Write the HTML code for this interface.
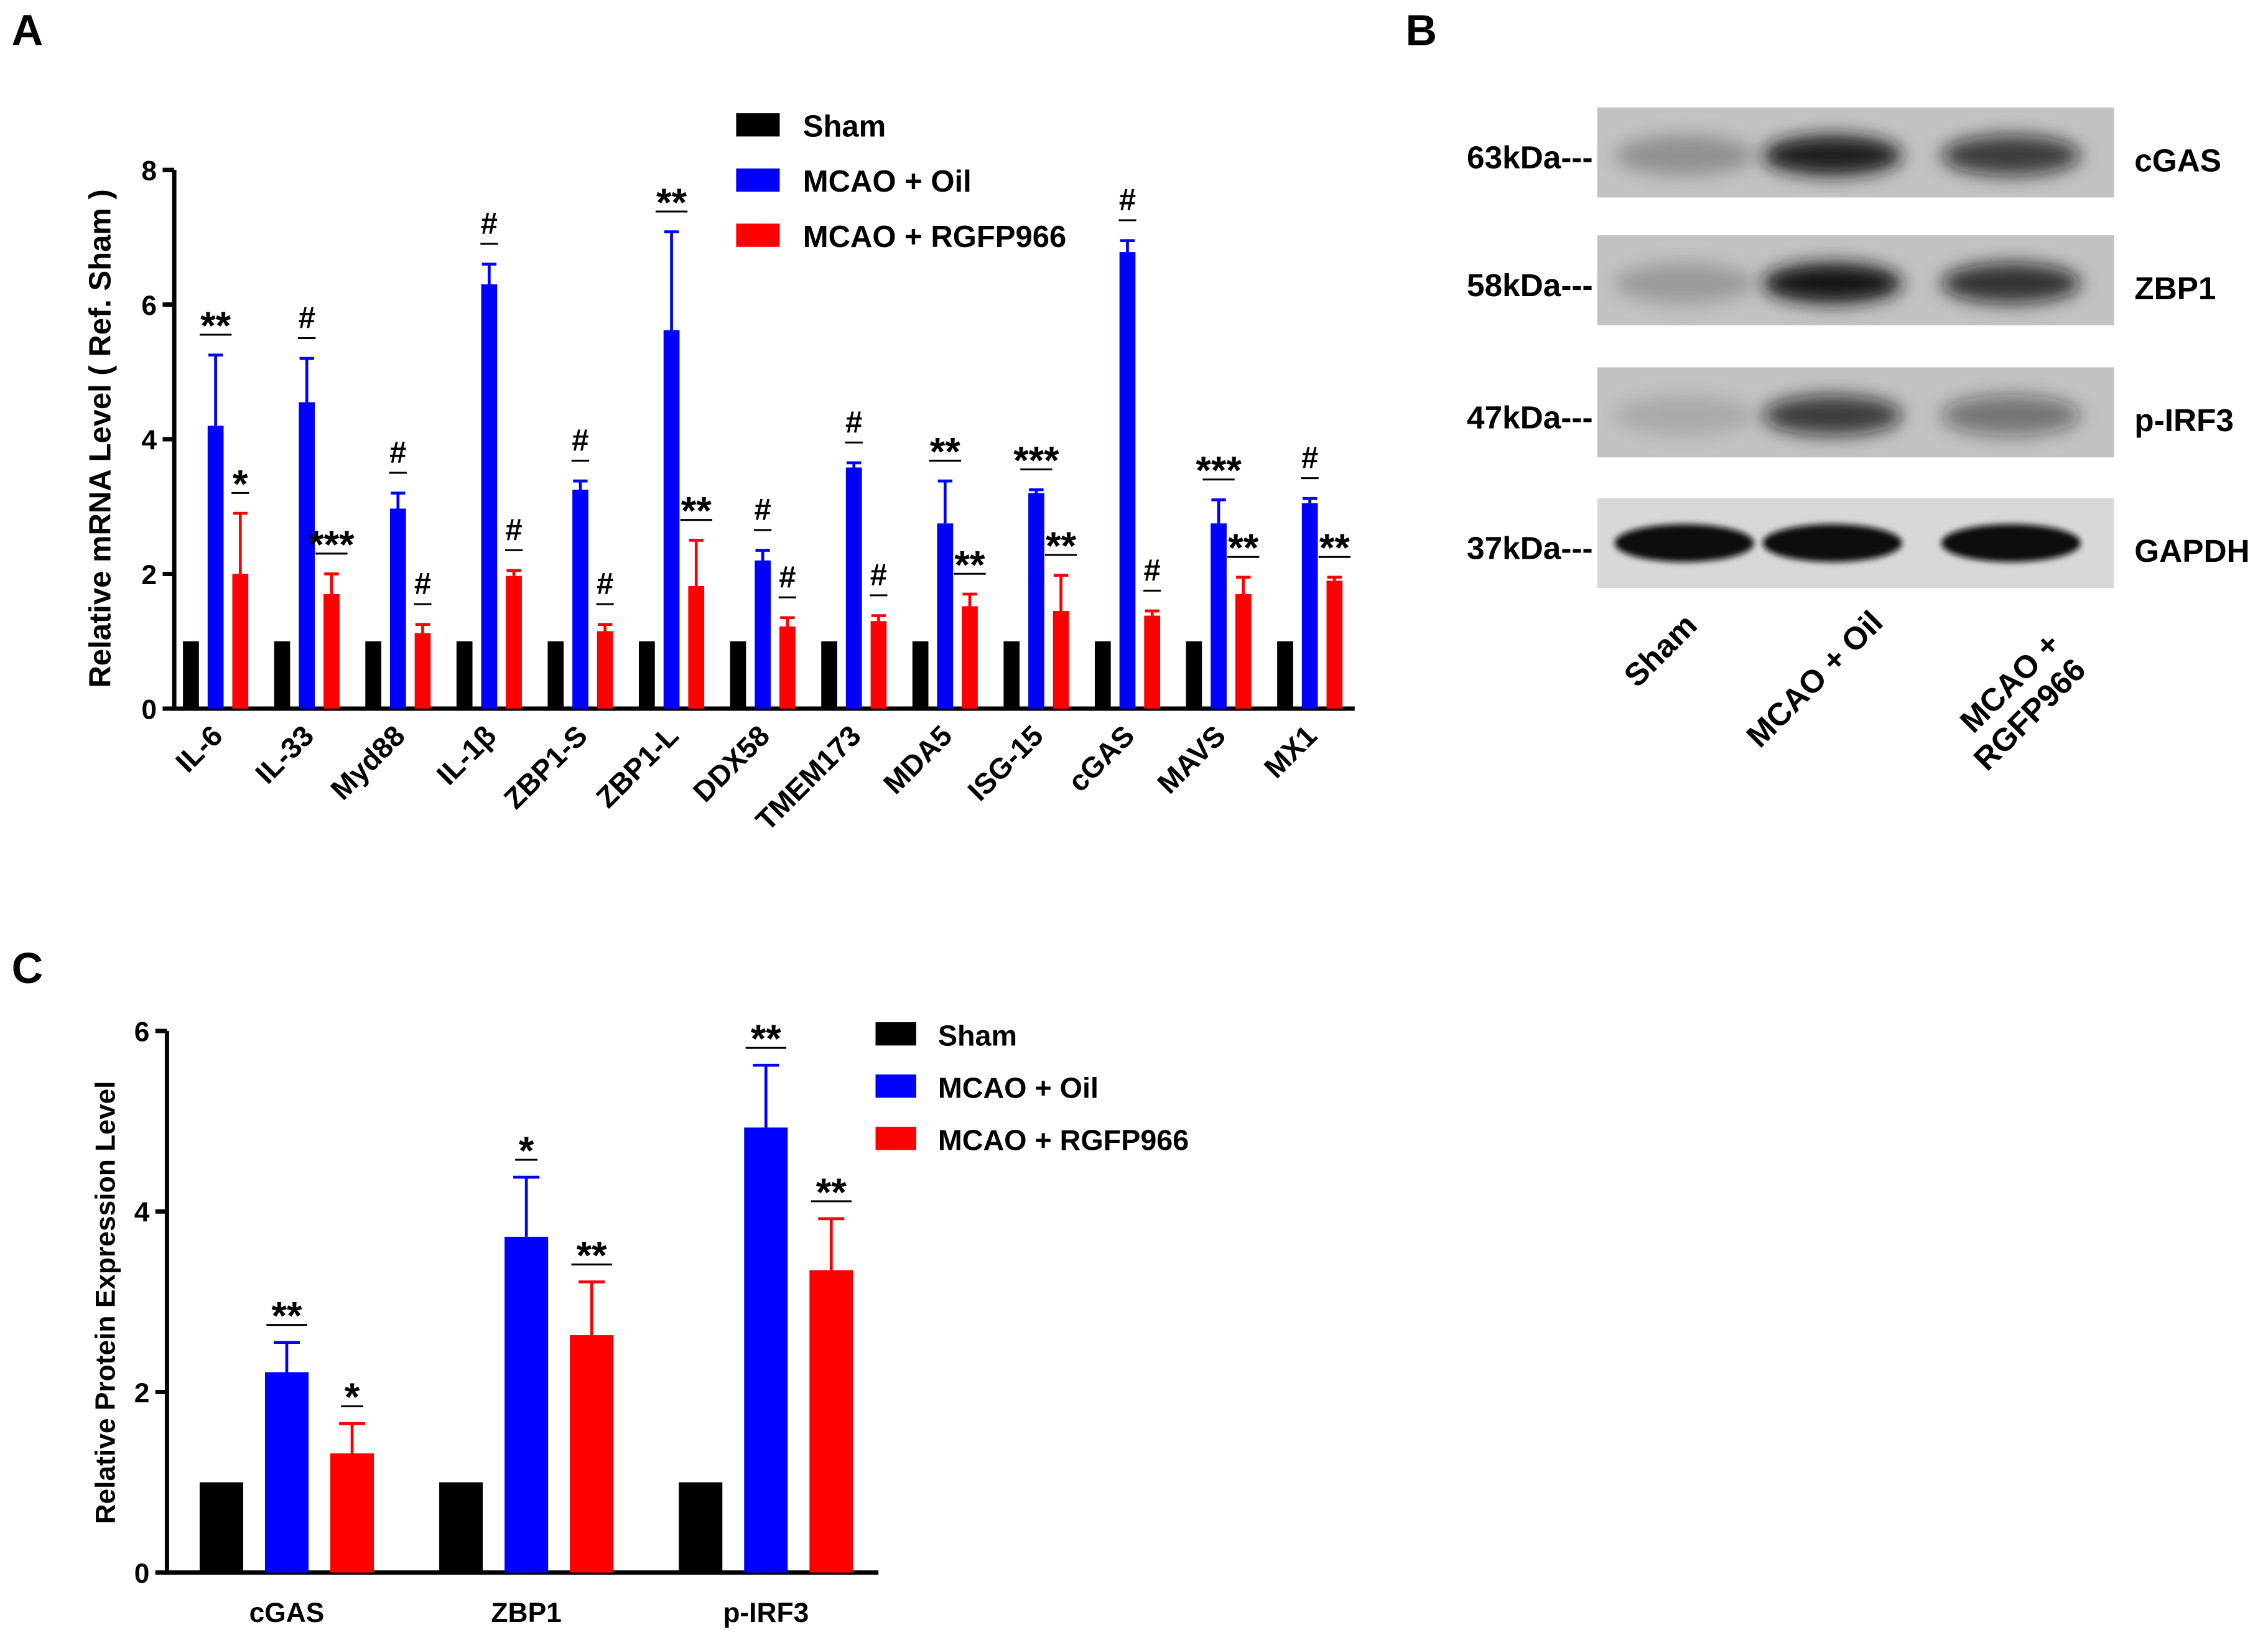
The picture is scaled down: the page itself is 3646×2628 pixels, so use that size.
<!DOCTYPE html>
<html><head><meta charset="utf-8"><style>
html,body{margin:0;padding:0;background:#fff;}
svg{display:block;font-family:"Liberation Sans",Arial,sans-serif;font-weight:bold;}
</style></head><body>
<svg id="fig" width="3646" height="2628" viewBox="0 0 1562 1126" preserveAspectRatio="none" xmlns="http://www.w3.org/2000/svg">
<rect width="1562" height="1126" fill="#fff"/>
<text x="8" y="31" font-size="30">A</text>
<text x="968" y="31" font-size="30">B</text>
<text x="8" y="677" font-size="30">C</text>
<g id="chartA"></g>
<g id="blot"></g>
<g id="chartC"></g>
</svg>
<script>
const genesA = ["IL-6","IL-33","Myd88","IL-1β","ZBP1-S","ZBP1-L","DDX58","TMEM173","MDA5","ISG-15","cGAS","MAVS","MX1"];
const shamA = [1,1,1,1,1,1,1,1,1,1,1,1,1];
const oilA = [4.2,4.55,2.97,6.3,3.25,5.62,2.2,3.58,2.75,3.2,6.78,2.75,3.05];
const oilErrA = [5.25,5.2,3.2,6.6,3.38,7.08,2.35,3.65,3.38,3.25,6.95,3.1,3.12];
const rgfA = [2.0,1.7,1.12,1.97,1.15,1.82,1.22,1.3,1.52,1.45,1.38,1.7,1.9];
const rgfErrA = [2.9,2.0,1.25,2.05,1.25,2.5,1.35,1.38,1.7,1.98,1.45,1.95,1.95];
const oilSigA = ["**","#","#","#","#","**","#","#","**","***","#","***","#"];
const rgfSigA = ["*","***","#","#","#","**","#","#","**","**","#","**","**"];
const ticksA = [0,2,4,6,8];

const groupsC = ["cGAS","ZBP1","p-IRF3"];
const shamC = [1,1,1];
const oilC = [2.22,3.72,4.93];
const oilErrC = [2.55,4.38,5.62];
const rgfC = [1.32,2.63,3.35];
const rgfErrC = [1.65,3.22,3.92];
const oilSigC = ["**","*","**"];
const rgfSigC = ["*","**","**"];
const ticksC = [0,2,4,6];

const legendLabels = ["Sham","MCAO + Oil","MCAO + RGFP966"];
const colors = ["#000","#0000ff","#ff0000"];
const NS="http://www.w3.org/2000/svg";
function mk(parent,tag,attrs,text){const e=document.createElementNS(NS,tag);for(const k in attrs)e.setAttribute(k,attrs[k]);if(text!==undefined)e.textContent=text;parent.appendChild(e);return e;}

function chart(g,cfg){
  const y=v=>cfg.y0-(v-0)/(cfg.ymax)*(cfg.y0-cfg.ytop);
  const x=(i,s)=>cfg.x0+i*cfg.step+s*cfg.off;
  let ax=mk(g,'line',{x1:cfg.ax,y1:cfg.ytop,x2:cfg.ax,y2:cfg.y0+1.5,stroke:'#000','stroke-width':3});
  
  let bx=mk(g,'line',{x1:cfg.ax-1.5,y1:cfg.y0,x2:cfg.axEnd,y2:cfg.y0,stroke:'#000','stroke-width':3});
  
  cfg.ticks.forEach(t=>{
    mk(g,'line',{x1:cfg.ax-8,y1:y(t),x2:cfg.ax,y2:y(t),stroke:'#000','stroke-width':3});
    const tl=mk(g,'text',{x:cfg.ax-12,y:y(t)+7,'font-size':19,'text-anchor':'end'},t);
    
  });
  const yt=mk(g,'text',{x:0,y:0,'font-size':cfg.ytFs,'text-anchor':'middle',transform:`translate(${cfg.ytx},${cfg.yty}) rotate(-90)`},cfg.ytitle);
  
  const series=[cfg.sham,cfg.oil,cfg.rgf], errs=[null,cfg.oilErr,cfg.rgfErr], sigs=[null,cfg.oilSig,cfg.rgfSig];
  cfg.cats.forEach((c,i)=>{
    for(let s=0;s<3;s++){
      const v=series[s][i], cx=x(i,s);
      const b=mk(g,'rect',{x:cx-cfg.bw/2,y:y(v),width:cfg.bw,height:cfg.y0-y(v),fill:colors[s]});
      
      if(errs[s]){
        const e=errs[s][i];
        mk(g,'line',{x1:cx,y1:y(v),x2:cx,y2:y(e),stroke:colors[s],'stroke-width':2});
        mk(g,'line',{x1:cx-cfg.cap,y1:y(e),x2:cx+cfg.cap,y2:y(e),stroke:colors[s],'stroke-width':2});
        const ly=y(e)-cfg.sigGap;
        const sig=sigs[s][i];
        const lw=sig.length>1?cfg.lineW:cfg.lineW*0.55;
        mk(g,'line',{x1:cx-lw/2,y1:ly,x2:cx+lw/2,y2:ly,stroke:'#000','stroke-width':1.3});
        const st=mk(g,'text',{x:cx,y:ly-(sig=='#'?7:-3),'font-size':sig=='#'?cfg.hashFs:cfg.starFs,'text-anchor':'middle'},sig);
        
      }
    }
    const cx=x(i,1);
    if(cfg.rotLabels){
      const l=mk(g,'text',{x:0,y:0,'font-size':20,'text-anchor':'end',transform:`translate(${cx+6},${cfg.y0+20}) rotate(-45)`},c);
      
    } else {
      const l=mk(g,'text',{x:cx,y:cfg.y0+34,'font-size':19,'text-anchor':'middle'},c);
      
    }
  });
  legendLabels.forEach((lab,k)=>{
    const r=mk(g,'rect',{x:cfg.lx,y:cfg.ly+k*cfg.lstep-8,width:cfg.lw,height:16,fill:colors[k]});
    
    const t=mk(g,'text',{x:cfg.ltx,y:cfg.ly+k*cfg.lstep+8,'font-size':cfg.lfs},lab);
    
  });
}
chart(document.getElementById('chartA'),{cats:genesA,sham:shamA,oil:oilA,oilErr:oilErrA,rgf:rgfA,rgfErr:rgfErrA,oilSig:oilSigA,rgfSig:rgfSigA,ticks:ticksA,
  ymax:8,y0:488,ytop:117,ax:120,axEnd:933,x0:131.5,step:62.8,off:17,bw:11,cap:5,sigGap:14,lineW:22,starFs:27,hashFs:21,
  ytitle:"Relative mRNA Level ( Ref. Sham )",ytFs:21,ytx:76,yty:302,rotLabels:true,
  lx:507,ly:86,lstep:38,lw:30,ltx:553,lfs:21});
chart(document.getElementById('chartC'),{cats:groupsC,sham:shamC,oil:oilC,oilErr:oilErrC,rgf:rgfC,rgfErr:rgfErrC,oilSig:oilSigC,rgfSig:rgfSigC,ticks:ticksC,
  ymax:6,y0:1083,ytop:710,ax:115,axEnd:605,x0:152.5,step:165,off:45,bw:30,cap:9,sigGap:12,lineW:28,starFs:27,hashFs:21,
  ytitle:"Relative Protein Expression Level",ytFs:19,ytx:79,yty:897,rotLabels:false,
  lx:603,ly:712,lstep:36,lw:28,ltx:646,lfs:20});

const blotRows=["cGAS","ZBP1","p-IRF3","GAPDH"];
const blotKda=["63kDa---","58kDa---","47kDa---","37kDa---"];
const blotTop=[74,162,253,343];
const blotInt=[[0.25,0.95,0.75],[0.2,1.0,0.8],[0.12,0.75,0.45],[1,1,1]];
const lanes=["Sham","MCAO + Oil","MCAO +\nRGFP966"];
const bg=document.getElementById('blot');
const defs=mk(bg,'defs',{});
const flt=mk(defs,'filter',{id:'blur',x:'-50%',y:'-50%',width:'200%',height:'200%'});
mk(flt,'feGaussianBlur',{stdDeviation:6});
const flt2=mk(defs,'filter',{id:'blur2',x:'-20%',y:'-50%',width:'140%',height:'200%'});
mk(flt2,'feGaussianBlur',{stdDeviation:2});
blotRows.forEach((r,i)=>{
  const t=blotTop[i];
  const g=mk(bg,'g',{});
  
  mk(g,'rect',{x:1100,y:t,width:356,height:62,fill:i==3?'#d8d8d8':'#c2c2c2'});
  const cs=[1160,1262,1385];
  blotInt[i].forEach((v,j)=>{
    if(i==3){
      mk(g,'ellipse',{cx:cs[j],cy:t+31,rx:48,ry:13,fill:'#080808',filter:'url(#blur2)'});
    } else {
      mk(g,'ellipse',{cx:cs[j],cy:t+33,rx:48,ry:14,fill:`rgba(20,20,20,${v})`,filter:'url(#blur)'});
    }
  });
  const k=mk(g,'text',{x:1097,y:t+42,'font-size':22,'text-anchor':'end'},blotKda[i]);
  
  const n=mk(g,'text',{x:1470,y:t+44,'font-size':22},r);
  
});
const lanePos=[[1170,432],[1298,430],[1420,445]];
lanes.forEach((l,j)=>{
  const parts=l.split('\n');
  const t=mk(bg,'text',{x:0,y:0,'font-size':22,'text-anchor':'end',transform:`translate(${lanePos[j][0]},${lanePos[j][1]}) rotate(-45)`});
  
  parts.forEach((p,k)=>{mk(t,'tspan',{x:0,dy:k?25:0},p);});
});
</script>
</body></html>
